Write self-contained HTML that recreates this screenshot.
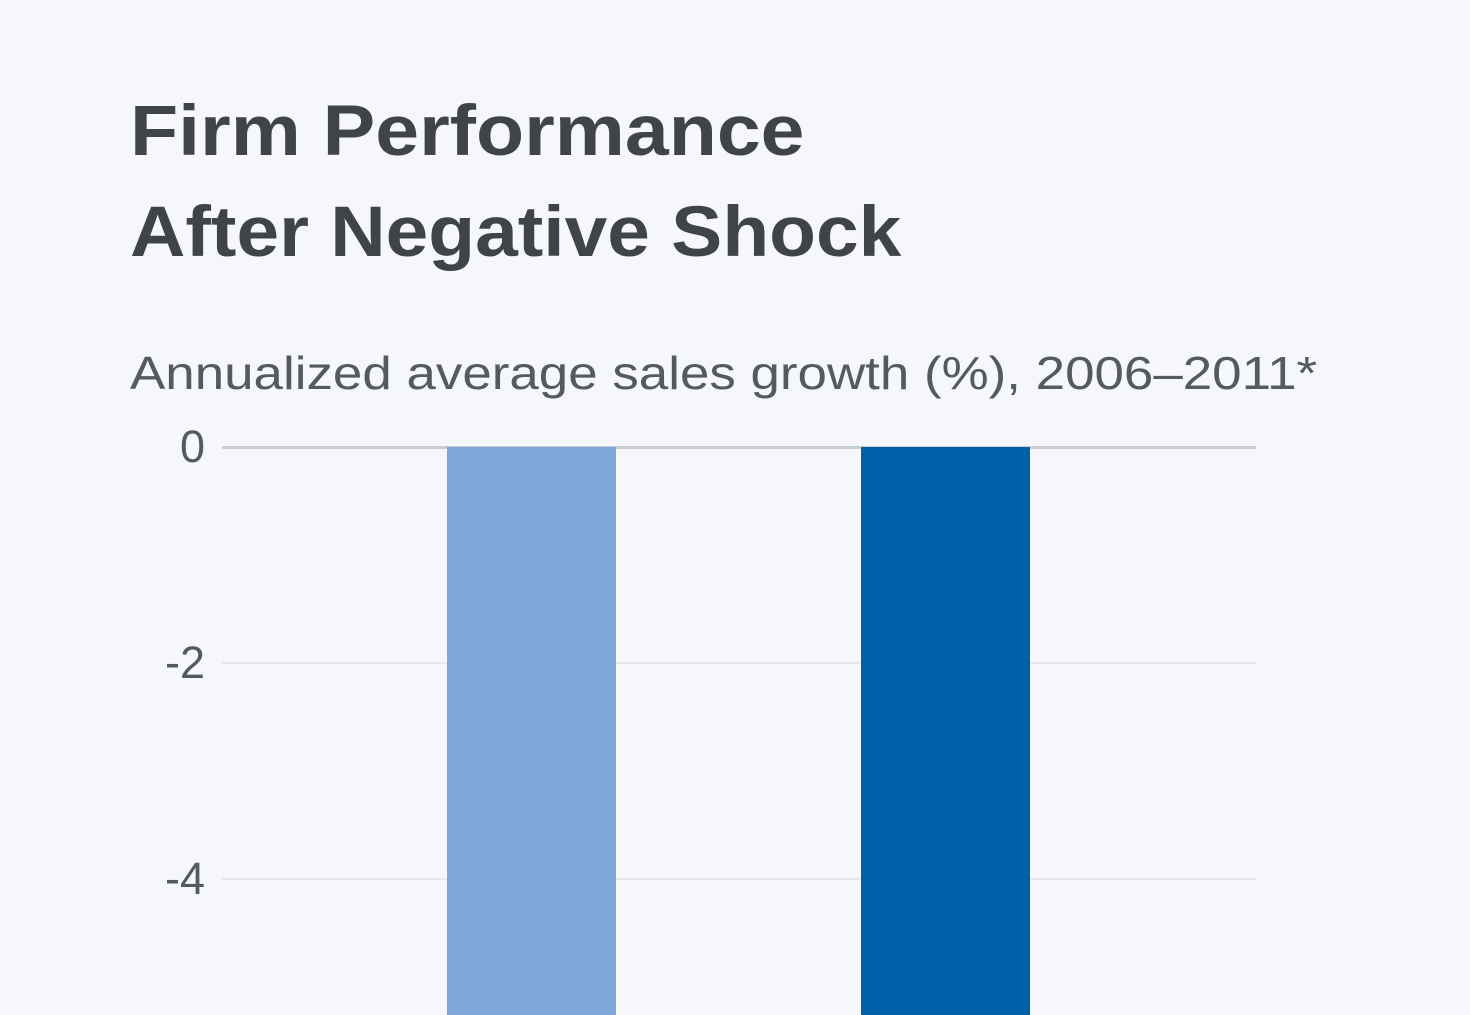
<!DOCTYPE html>
<html><head><style>
html,body{margin:0;padding:0;}
body{width:1470px;height:1015px;background:#f5f7fa;position:relative;overflow:hidden;font-family:"Liberation Sans","DejaVu Sans",sans-serif;}
.t{position:absolute;left:130px;color:#404348;font-weight:bold;font-size:71px;white-space:nowrap;transform-origin:0 0;}
.s{position:absolute;left:130px;top:346px;color:#555a60;font-size:46px;white-space:nowrap;transform:scaleX(1.15);transform-origin:0 0;}
.g{position:absolute;left:222px;width:1034px;height:2px;background:#e6e8ec;}
.y{position:absolute;width:85px;left:120px;text-align:right;color:#555a60;font-size:45px;}
.b{position:absolute;top:447px;height:568px;}
</style></head><body>
<div class="t" style="top:91px;transform:scaleX(1.11)">Firm Performance</div>
<div class="t" style="top:192px;transform:scaleX(1.08)">After Negative Shock</div>
<div class="s">Annualized average sales growth (%), 2006–2011*</div>
<div class="g" style="top:446px;background:#c9ccd1;height:3px"></div>
<div class="g" style="top:662px"></div>
<div class="g" style="top:878px"></div>
<div class="y" style="top:421px">0</div>
<div class="y" style="top:637px">-2</div>
<div class="y" style="top:853px">-4</div>
<div class="b" style="left:447px;width:169px;background:#7ea7d8"></div>
<div class="b" style="left:861px;width:169px;background:#0061aa"></div>
</body></html>
